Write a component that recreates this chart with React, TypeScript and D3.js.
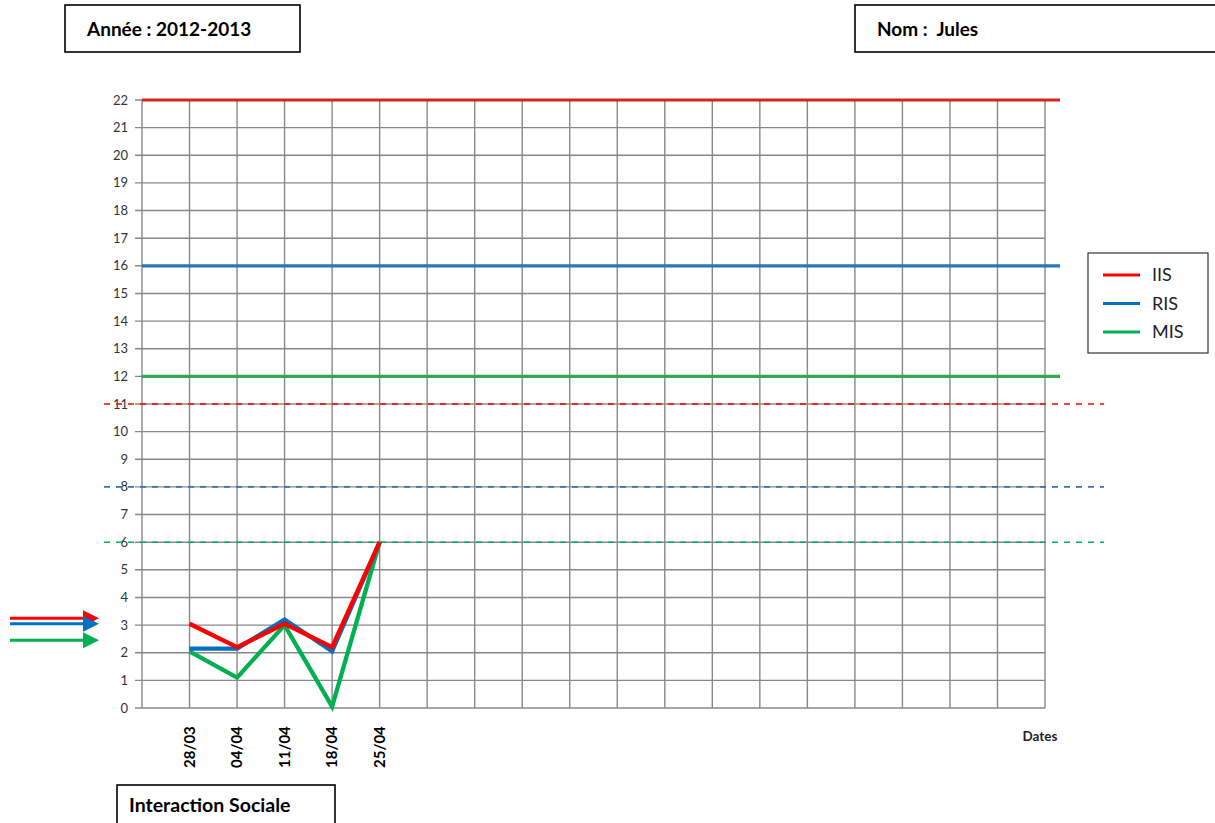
import React, { useEffect, useRef } from "react";
import * as d3 from "d3";

// tick labels and series values
const dateLabels = ["28/03", "04/04", "11/04", "18/04", "25/04"];
const iisValues = [3.05, 2.2, 3.05, 2.2, 6];
const risValues = [2.15, 2.15, 3.2, 2.05, 6];
const misValues = [2.05, 1.1, 3.0, 0.05, 6];

// reference levels: solid = top, dashed = threshold
const solidLevels = [
  { name: "IIS", value: 22, color: "#d9221f" },
  { name: "RIS", value: 16, color: "#2e75b6" },
  { name: "MIS", value: 12, color: "#33a854" },
];
const dashedLevels = [
  { name: "IIS", value: 11, color: "#ff0000" },
  { name: "RIS", value: 8, color: "#2e75b6" },
  { name: "MIS", value: 6, color: "#00b050" },
];
// left arrows pointing at the current level
const arrowLevels = [
  { name: "IIS", value: 3.25, color: "#ff0000" },
  { name: "RIS", value: 3.05, color: "#0070c0" },
  { name: "MIS", value: 2.45, color: "#00b050" },
];

const series = [
  { name: "MIS", values: misValues, color: "#00b050" },
  { name: "RIS", values: risValues, color: "#0070c0" },
  { name: "IIS", values: iisValues, color: "#ff0000" },
];
const legendItems = [
  { name: "IIS", color: "#ff0000" },
  { name: "RIS", color: "#0070c0" },
  { name: "MIS", color: "#00b050" },
];

const FONT = "Lato, 'Open Sans', sans-serif";

const App = () => {
  const svgRef = useRef<SVGSVGElement>(null);

  useEffect(() => {
    const svg = d3.select(svgRef.current);
    svg.selectAll("*").remove();

    const x = d3.scaleLinear().domain([0, 19]).range([142, 1045]);
    const y = d3.scaleLinear().domain([0, 22]).range([708, 100]);

    // header boxes
    const box = (bx: number, by: number, w: number, h: number, label: string, tx: number, ty: number, fs: number) => {
      svg.append("rect")
        .attr("x", bx).attr("y", by).attr("width", w).attr("height", h)
        .attr("fill", "#fff").attr("stroke", "#000").attr("stroke-width", 1.6);
      svg.append("text")
        .attr("x", tx).attr("y", ty)
        .attr("font-family", FONT).attr("font-weight", "bold")
        .attr("font-size", fs).attr("fill", "#000")
        .text(label);
    };
    box(65, 5, 235, 47, "Année : 2012-2013", 87, 36, 19);
    box(855, 5, 365, 47, "Nom :\u00a0 Jules", 877, 36, 19);
    box(117, 785, 218, 50, "Interaction Sociale", 129, 812, 19.5);

    const grid = svg.append("g");

    // horizontal grid + y ticks
    d3.range(0, 23).forEach(v => {
      grid.append("line")
        .attr("x1", 135).attr("x2", x(19))
        .attr("y1", y(v)).attr("y2", y(v))
        .attr("stroke", "#888").attr("stroke-width", 1.4);
      grid.append("text")
        .attr("x", 128).attr("y", y(v) + 4.5)
        .attr("text-anchor", "end")
        .attr("font-family", FONT).attr("font-size", 13)
        .attr("fill", "#333")
        .text(v);
    });

    // vertical grid
    d3.range(0, 20).forEach(i => {
      grid.append("line")
        .attr("x1", x(i)).attr("x2", x(i))
        .attr("y1", y(22)).attr("y2", y(0))
        .attr("stroke", "#888").attr("stroke-width", 1.4);
    });

    // x labels, rotated
    dateLabels.forEach((d, i) => {
      svg.append("text")
        .attr("transform", `translate(${x(i + 1) + 5},${768}) rotate(-90)`)
        .attr("font-family", FONT).attr("font-weight", "bold")
        .attr("font-size", 15).attr("fill", "#000")
        .text(d);
    });
    svg.append("text")
      .attr("x", x(19) - 5).attr("y", 741)
      .attr("text-anchor", "middle")
      .attr("font-family", FONT).attr("font-weight", "bold")
      .attr("font-size", 13.5).attr("fill", "#222")
      .text("Dates");

    // solid reference levels
    solidLevels.forEach(l => {
      svg.append("line")
        .attr("x1", x(0)).attr("x2", 1060)
        .attr("y1", y(l.value)).attr("y2", y(l.value))
        .attr("stroke", l.color).attr("stroke-width", 3.2);
    });

    // dashed thresholds
    dashedLevels.forEach(l => {
      svg.append("line")
        .attr("x1", 104).attr("x2", 1104)
        .attr("y1", y(l.value)).attr("y2", y(l.value))
        .attr("stroke", l.color).attr("stroke-width", 1.6)
        .attr("stroke-dasharray", "6,6");
    });

    // data lines
    const line = d3.line<number>()
      .x((_, i) => x(i + 1))
      .y(v => y(v));
    series.forEach(s => {
      svg.append("path")
        .attr("d", line(s.values))
        .attr("fill", "none")
        .attr("stroke", s.color)
        .attr("stroke-width", 4.3)
        .attr("stroke-linejoin", "miter");
    });

    // arrows on the left
    arrowLevels.forEach(a => {
      const ay = y(a.value);
      svg.append("line")
        .attr("x1", 10).attr("x2", 86)
        .attr("y1", ay).attr("y2", ay)
        .attr("stroke", a.color).attr("stroke-width", 3);
      svg.append("path")
        .attr("d", `M83,${ay - 8} L99,${ay} L83,${ay + 8} Z`)
        .attr("fill", a.color);
    });

    // legend
    svg.append("rect")
      .attr("x", 1088).attr("y", 253).attr("width", 120).attr("height", 100)
      .attr("fill", "#fff").attr("stroke", "#333").attr("stroke-width", 1.2);
    legendItems.forEach((it, i) => {
      const ly = 275 + i * 28.5;
      svg.append("line")
        .attr("x1", 1103).attr("x2", 1140)
        .attr("y1", ly).attr("y2", ly)
        .attr("stroke", it.color).attr("stroke-width", 3);
      svg.append("text")
        .attr("x", 1152).attr("y", ly + 6)
        .attr("font-family", FONT).attr("font-size", 18)
        .attr("fill", "#222")
        .text(it.name);
    });
  }, []);

  return (
    <svg
      ref={svgRef}
      width={1215}
      height={823}
      style={{ position: "absolute", left: 0, top: 0, background: "#fff" }}
    />
  );
};

export default App;
